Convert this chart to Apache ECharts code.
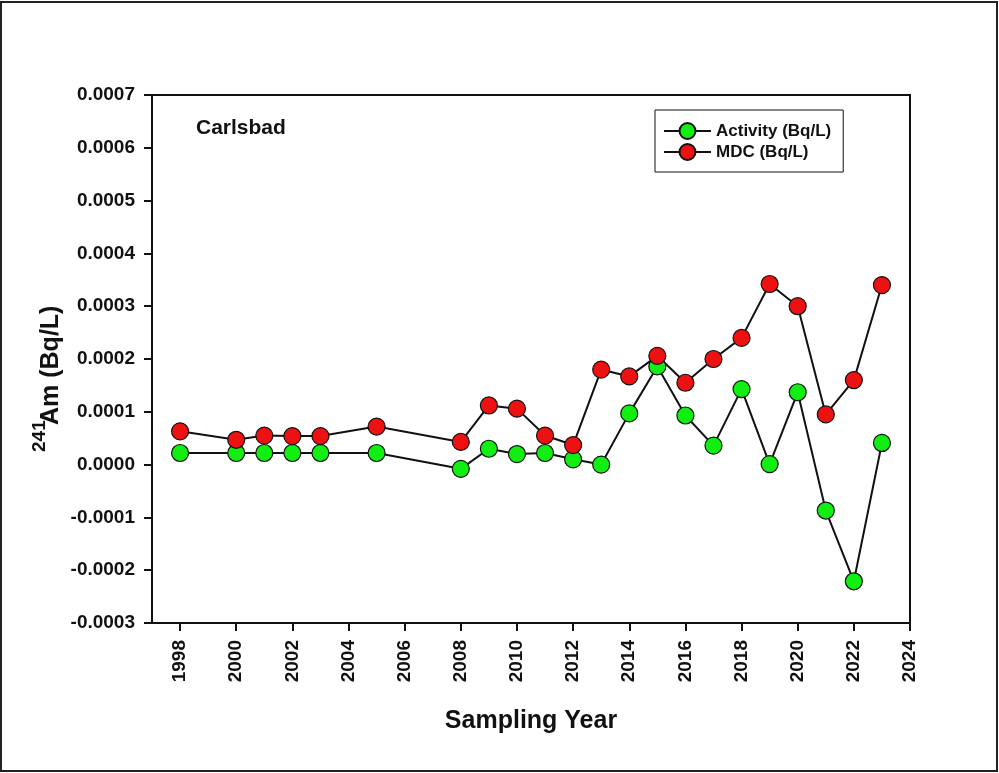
<!DOCTYPE html>
<html>
<head>
<meta charset="utf-8">
<script src="https://cdn.jsdelivr.net/npm/echarts@6/dist/echarts.min.js"></script>
<style>
html,body{margin:0;padding:0;background:#fff;}
#main{width:999px;height:773px;}
</style>
</head>
<body>
<div id="main"></div>
<script>
var years = [1998,2000,2001,2002,2003,2005,2008,2009,2010,2011,2012,2013,2014,2015,2016,2017,2018,2019,2020,2021,2022,2023];
var activity = [0.000022,0.000022,0.000022,0.000022,0.000022,0.000022,-0.000008,0.000030,0.000020,0.000022,0.000010,0.000000,0.000097,0.000186,0.000093,0.000036,0.000143,0.000001,0.000137,-0.000087,-0.000221,0.000041];
var mdc = [0.000063,0.000047,0.000055,0.000054,0.000054,0.000072,0.000043,0.000112,0.000106,0.000055,0.000037,0.000180,0.000167,0.000206,0.000155,0.000200,0.000240,0.000342,0.000300,0.000095,0.000160,0.000340];
var xTicks = [1998,2000,2002,2004,2006,2008,2010,2012,2014,2016,2018,2020,2022,2024];
var seriesNames = ['Activity (Bq/L)','MDC (Bq/L)'];
var siteName = 'Carlsbad';
var xTitle = 'Sampling Year';
var yTitleSup = '241';
var yTitleMain = 'Am (Bq/L)';

var FONT = 'Liberation Sans, Arial, Helvetica, sans-serif';
function pairs(xs, ys){ return xs.map(function(x,i){ return [x, ys[i]]; }); }

var chart = echarts.init(document.getElementById('main'), null, {renderer:'canvas'});
chart.setOption({
  backgroundColor:'#fff',
  animation:false,
  title:{
    text: siteName, left:191, top:113,
    textStyle:{fontFamily:FONT, fontWeight:'bold', fontSize:21, color:'#111'}
  },
  legend:{
    left:655, top:110, orient:'vertical',
    itemWidth:47, itemHeight:20, itemGap:3,
    padding:[12,12,11,8],
    borderColor:'#111', borderWidth:1,
    backgroundColor:'#fff',
    textStyle:{fontFamily:FONT, fontWeight:'bold', fontSize:17, color:'#111'},
    data: seriesNames
  },
  grid:{left:152, right:89, top:95, bottom:150, show:true, borderColor:'#111', borderWidth:2, containLabel:false},
  xAxis:{
    type:'value', min:1997, max:2024,
    name: xTitle, nameLocation:'middle', nameGap:86,
    nameTextStyle:{fontFamily:FONT, fontWeight:'bold', fontSize:25, color:'#111'},
    axisLine:{show:true, onZero:false, lineStyle:{color:'#111', width:2}},
    axisTick:{show:true, length:8, inside:false, lineStyle:{color:'#111', width:2}, customValues:xTicks},
    axisLabel:{rotate:90, margin:17, fontFamily:FONT, fontWeight:'bold', fontSize:19, color:'#111', customValues:xTicks,
      formatter:function(v){ return String(Math.round(v)); }},
    splitLine:{show:false}
  },
  yAxis:{
    type:'value', min:-0.0003, max:0.0007, interval:0.0001,
    axisLine:{show:true, onZero:false, lineStyle:{color:'#111', width:2}},
    axisTick:{show:true, length:8, lineStyle:{color:'#111', width:2}},
    axisLabel:{margin:17, fontFamily:FONT, fontWeight:'bold', fontSize:19, color:'#111',
      formatter:function(v){ if(Math.abs(v)<1e-12) return '0.0000'; return v.toFixed(4); }},
    splitLine:{show:false}
  },
  graphic:[
    {type:'rect', shape:{x:1, y:2, width:996, height:769}, style:{fill:null, stroke:'#222', lineWidth:2}, silent:true, z:-1},
    {type:'text', x:40, y:452, rotation:Math.PI/2,
      style:{text:yTitleSup, align:'left', verticalAlign:'middle',
        font:'bold 19px ' + FONT, fill:'#111'}},
    {type:'text', x:51, y:425, rotation:Math.PI/2,
      style:{text:yTitleMain, align:'left', verticalAlign:'middle',
        font:'bold 25px ' + FONT, fill:'#111'}}
  ],
  series:[
    {name:seriesNames[0], type:'line', data:pairs(years, activity),
      symbol:'circle', symbolSize:17,
      lineStyle:{color:'#111', width:2},
      itemStyle:{color:'#11ee11', borderColor:'#111', borderWidth:1.2}},
    {name:seriesNames[1], type:'line', data:pairs(years, mdc),
      symbol:'circle', symbolSize:17,
      lineStyle:{color:'#111', width:2},
      itemStyle:{color:'#ee1111', borderColor:'#111', borderWidth:1.2}}
  ]
});
</script>
</body>
</html>
